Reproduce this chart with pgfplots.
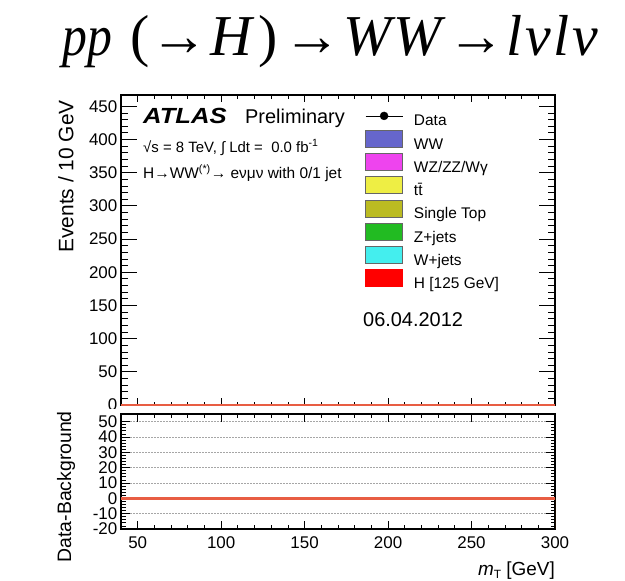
\documentclass[border=0pt]{standalone}
\usepackage{fontspec}
\setmainfont{Liberation Sans}
\newfontfamily\titlefont{Liberation Serif}
\usepackage{pgfplots}
\pgfplotsset{compat=1.18}

\definecolor{cWW}{RGB}{102,102,204}
\definecolor{cWZ}{RGB}{238,68,238}
\definecolor{ctt}{RGB}{238,238,68}
\definecolor{cST}{RGB}{187,187,34}
\definecolor{cZ}{RGB}{34,187,34}
\definecolor{cW}{RGB}{68,238,238}
\definecolor{cH}{RGB}{255,0,0}
\definecolor{redline}{RGB}{232,93,67}

\pgfplotsset{atlas/.style={
  scale only axis, width=434bp, xmin=40, xmax=300,
  xtick={50,100,...,300}, minor x tick num=4, minor y tick num=4,
  tick align=inside, axis line style={line width=1.2bp},
  every tick/.style={black, line width=0.8bp},
  ticklabel style={font=\fontsize{17}{17}\selectfont},
  /pgf/number format/assume math mode=true,
  yticklabel style={inner sep=3.5bp},
  xticklabel style={inner sep=7bp},
}}

\pgfplotsset{boxlegend/.style={legend image code/.code={\draw[#1] (0bp,-3bp) rectangle (37bp,13.6bp);}}}

\newcommand{\tp}[2]{\node[anchor=base west, inner sep=0pt] at (#1bp,-55bp) {\titlefont\fontsize{58}{58}\selectfont #2};}

\begin{document}
\begin{tikzpicture}
\path[use as bounding box] (0,0) rectangle (625bp,-581bp);

\tp{62}{\scalebox{0.86}[1]{\itshape pp}}
\tp{130}{(}
\tp{150}{→}
\tp{210}{\itshape H}
\tp{258}{)}
\tp{283}{→}
\tp{343}{\itshape W\kern2bp W}
\tp{447}{→}
\tp{506}{\itshape l\kern3bp ν\kern3bp l\kern3bp ν}

\begin{axis}[atlas, at={(121bp,-95bp)}, anchor=north west, height=310bp,
  ymin=0, ymax=467, ytick={0,50,...,450}, xticklabels={},
  xtick style={/pgfplots/major tick length=7bp, /pgfplots/minor tick length=3.5bp},
  ytick style={/pgfplots/major tick length=16bp, /pgfplots/minor tick length=7bp},
  legend style={at={(axis description cs:0.5622,0.960)}, anchor=north west, draw=none, fill=none,
    inner sep=0pt, row sep=2.8bp, column sep=11bp, nodes={inner sep=0pt},
    font=\fontsize{15.5}{15.5}\selectfont},
  legend cell align=left,
]
\addlegendimage{legend image code/.code={\path[draw=none, fill=none] (0bp,-3bp) rectangle (37bp,13.6bp); \draw[line width=0.8bp, black] (0bp,5.3bp)--(37bp,5.3bp); \fill[black] (18.5bp,5.3bp) circle (4bp);}}
\addlegendentry{\rule[-3bp]{0pt}{14bp}Data}
\addlegendimage{boxlegend, fill=cWW, draw=black!60, line width=0.8bp}
\addlegendentry{\rule[-3bp]{0pt}{14bp}WW}
\addlegendimage{boxlegend, fill=cWZ, draw=black!60, line width=0.8bp}
\addlegendentry{\rule[-3bp]{0pt}{14bp}WZ/ZZ/Wγ}
\addlegendimage{boxlegend, fill=ctt, draw=black!60, line width=0.8bp}
\addlegendentry{\rule[-3bp]{0pt}{14bp}t\={t}}
\addlegendimage{boxlegend, fill=cST, draw=black!60, line width=0.8bp}
\addlegendentry{\rule[-3bp]{0pt}{14bp}Single Top}
\addlegendimage{boxlegend, fill=cZ, draw=black!60, line width=0.8bp}
\addlegendentry{\rule[-3bp]{0pt}{14bp}Z+jets}
\addlegendimage{boxlegend, fill=cW, draw=black!60, line width=0.8bp}
\addlegendentry{\rule[-3bp]{0pt}{14bp}W+jets}
\addlegendimage{boxlegend, fill=cH, draw=cH, line width=0.8bp}
\addlegendentry{\rule[-3bp]{0pt}{14bp}H [125 GeV]}
\addplot[redline, line width=1.2bp, forget plot] coordinates {(40,0) (300,0)};
\end{axis}

\fill[white] (70bp,-409bp) rectangle (120bp,-414bp);

\begin{axis}[atlas, at={(121bp,-414bp)}, anchor=north west, height=115bp,
  ymin=-20, ymax=55, ytick={-20,-10,...,50},
  xtick style={/pgfplots/major tick length=8bp, /pgfplots/minor tick length=4bp},
  ytick style={/pgfplots/major tick length=9bp, /pgfplots/minor tick length=4.5bp},
  ymajorgrids, grid style={gray!70, line width=0.7bp, dash pattern=on 1.5bp off 1.5bp},
]
\addplot[redline, line width=2.5bp] coordinates {(40,0) (300,0)};
\addplot[orange!80!black, line width=0.8bp] coordinates {(300,0) (300,-20)};
\end{axis}

\node[anchor=base west, inner sep=0pt] at (143bp,-123bp) {\fontsize{22}{22}\selectfont\bfseries\itshape\scalebox{1.17}[1]{ATLAS}};
\node[anchor=base west, inner sep=0pt] at (245bp,-123bp) {\fontsize{20}{20}\selectfont Preliminary};
\node[anchor=base west, inner sep=0pt] at (143bp,-152bp) {\fontsize{15}{15}\selectfont √s = 8 TeV, ∫ Ldt =\ \ 0.0 fb\textsuperscript{-1}};
\node[anchor=base west, inner sep=0pt] at (143bp,-178bp) {\fontsize{15.5}{15.5}\selectfont H→WW\textsuperscript{(*)}→ eνμν with 0/1 jet};
\node[anchor=base west, inner sep=0pt] at (363bp,-326bp) {\fontsize{20}{20}\selectfont 06.04.2012};

\node[rotate=90, anchor=east, inner sep=0pt] at (66bp,-100bp) {\fontsize{21}{21}\selectfont Events / 10 GeV};
\node[rotate=90, anchor=east, inner sep=0pt] at (66bp,-411bp) {\fontsize{19.5}{19.5}\selectfont Data-Background};
\node[anchor=base east, inner sep=0pt] at (555bp,-575bp) {\fontsize{19}{19}\selectfont{\itshape m}\raisebox{-3bp}{\fontsize{12}{12}\selectfont T} [GeV]};
\end{tikzpicture}
\end{document}
